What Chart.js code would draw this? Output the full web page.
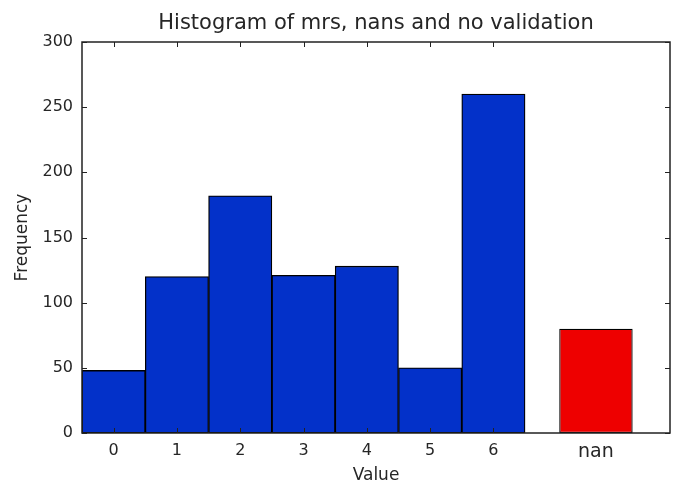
<!DOCTYPE html>
<html>
<head>
<meta charset="utf-8">
<script src="https://cdn.jsdelivr.net/npm/chart.js@4"></script>
<style>
  html, body { margin: 0; padding: 0; background: #fff; }
  #wrap { width: 676px; height: 485px; }
</style>
</head>
<body>
<div id="wrap"><canvas id="histChart" width="676" height="485"></canvas></div>
<script>
'use strict';

// histogram bins (value -> frequency)
let binValues = [0, 1, 2, 3, 4, 5, 6];
let binCounts = [48, 120, 182, 121, 128, 50, 260];
// the separate "nan" bar
let nanPosition = 7.62;
let nanCount = 80;
let xTickLabels = ['0', '1', '2', '3', '4', '5', '6', 'nan'];
let yTicks = [0, 50, 100, 150, 200, 250, 300];

let textColor = '#262626';
let fontFamily = '"DejaVu Sans", sans-serif';

let blueData = [];
for (let i = 0; i < binValues.length; i++) {
  blueData.push({ x: binValues[i], y: binCounts[i] });
}
let tickPositions = binValues.concat([nanPosition]);

// matplotlib style frame with inward ticks on all four sides
let frameTicks = {
  id: 'frameTicks',
  afterDatasetsDraw(chart) {
    let ctx = chart.ctx;
    let area = chart.chartArea;
    let xs = chart.scales.x;
    let ys = chart.scales.y;
    ctx.save();
    ctx.strokeStyle = '#222';
    ctx.lineWidth = 1;
    ctx.beginPath();
    for (let i = 0; i < binValues.length; i++) {
      let px = Math.round(xs.getPixelForValue(binValues[i])) + 0.5;
      ctx.moveTo(px, area.bottom);
      ctx.lineTo(px, area.bottom - 5);
      ctx.moveTo(px, area.top);
      ctx.lineTo(px, area.top + 5);
    }
    for (let i = 0; i < yTicks.length; i++) {
      let py = Math.round(ys.getPixelForValue(yTicks[i])) + 0.5;
      ctx.moveTo(area.left, py);
      ctx.lineTo(area.left + 5, py);
      ctx.moveTo(area.right, py);
      ctx.lineTo(area.right - 5, py);
    }
    ctx.stroke();
    ctx.lineWidth = 1.5;
    ctx.strokeRect(area.left, area.top, area.right - area.left, area.bottom - area.top);
    ctx.restore();
  }
};

let ctx = document.getElementById('histChart').getContext('2d');
// eslint-disable-next-line no-unused-vars
let histChart = new Chart(ctx, {
  type: 'bar',
  data: {
    datasets: [{
      label: 'mrs',
      data: blueData,
      backgroundColor: '#0331c9',
      borderColor: '#000',
      borderWidth: 1.3,
      borderSkipped: false,
      grouped: false,
      barPercentage: 1,
      categoryPercentage: 1
    }, {
      label: 'nan',
      data: [{ x: nanPosition, y: nanCount }],
      backgroundColor: '#ee0000',
      borderColor: '#000',
      borderWidth: 1.3,
      borderSkipped: false,
      grouped: false,
      barPercentage: 1.16,
      categoryPercentage: 1
    }]
  },
  options: {
    responsive: false,
    animation: false,
    events: [],
    layout: { padding: { left: 0, right: 6, top: 0, bottom: 0 } },
    plugins: {
      legend: { display: false },
      tooltip: { enabled: false },
      title: {
        display: true,
        text: 'Histogram of mrs, nans and no validation',
        fullSize: false,
        color: textColor,
        font: { family: fontFamily, size: 21, weight: 'normal' },
        padding: { top: 11, bottom: 5.8 }
      }
    },
    scales: {
      x: {
        type: 'linear',
        offset: false,
        min: -0.5,
        max: 8.79,
        grid: { display: false, drawTicks: false, offset: false },
        border: { display: false },
        afterBuildTicks(scale) {
          scale.ticks = tickPositions.map(v => ({ value: v }));
        },
        afterFit(scale) { scale.height = 52; },
        ticks: {
          autoSkip: false,
          maxRotation: 0,
          padding: 8,
          color: textColor,
          font: c => ({ family: fontFamily, size: c.index === 7 ? 19 : 16 }),
          callback: (value, index) => xTickLabels[index]
        },
        title: {
          display: true,
          text: 'Value',
          color: textColor,
          font: { family: fontFamily, size: 17 },
          padding: { top: 0, bottom: -1 }
        }
      },
      y: {
        min: 0,
        max: 300,
        grid: { display: false, drawTicks: false },
        border: { display: false },
        afterBuildTicks(scale) {
          scale.ticks = yTicks.map(v => ({ value: v }));
        },
        afterFit(scale) { scale.width = 82; },
        ticks: {
          padding: 9,
          color: textColor,
          font: { family: fontFamily, size: 16 }
        },
        title: {
          display: true,
          text: 'Frequency',
          color: textColor,
          font: { family: fontFamily, size: 17 },
          padding: { top: 12, bottom: 0 }
        }
      }
    }
  },
  plugins: [frameTicks]
});
</script>
</body>
</html>
